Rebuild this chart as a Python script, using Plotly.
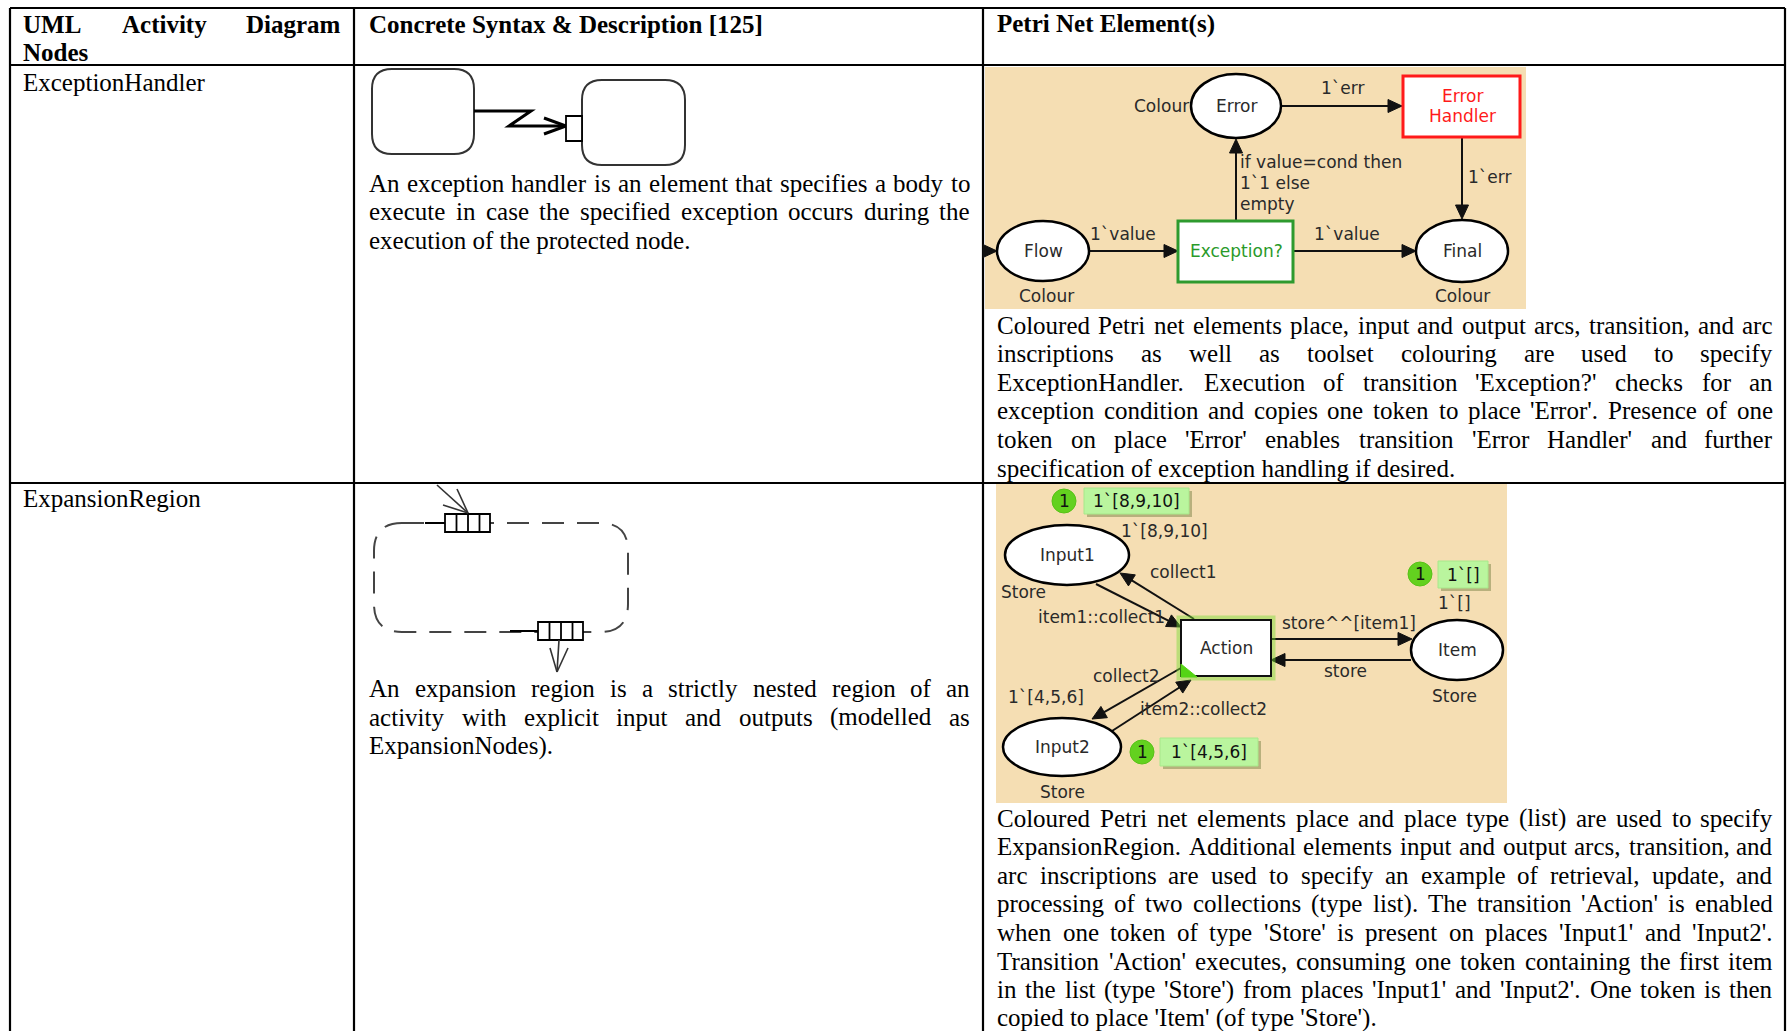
import math
import plotly.graph_objects as go

# ---------------- table content ----------------
header_col1 = ["UML Activity Diagram", "Nodes"]
header_col2 = "Concrete Syntax & Description [125]"
header_col3 = "Petri Net Element(s)"
node_names = ["ExceptionHandler", "ExpansionRegion"]

syntax_row1 = [
    "An exception handler is an element that specifies a body to",
    "execute in case the specified exception occurs during the",
    "execution of the protected node.",
]
syntax_row2 = [
    "An expansion region is a strictly nested region of an",
    "activity with explicit input and outputs (modelled as",
    "ExpansionNodes).",
]
petri_row1 = [
    "Coloured Petri net elements place, input and output arcs, transition, and arc",
    "inscriptions as well as toolset colouring are used to specify",
    "ExceptionHandler. Execution of transition 'Exception?' checks for an",
    "exception condition and copies one token to place 'Error'. Presence of one",
    "token on place 'Error' enables transition 'Error Handler' and further",
    "specification of exception handling if desired.",
]
petri_row2 = [
    "Coloured Petri net elements place and place type (list) are used to specify",
    "ExpansionRegion. Additional elements input and output arcs, transition, and",
    "arc inscriptions are used to specify an example of retrieval, update, and",
    "processing of two collections (type list). The transition 'Action' is enabled",
    "when one token of type 'Store' is present on places 'Input1' and 'Input2'.",
    "Transition 'Action' executes, consuming one token containing the first item",
    "in the list (type 'Store') from places 'Input1' and 'Input2'. One token is then",
    "copied to place 'Item' (of type 'Store').",
]

# Petri net 1 (ExceptionHandler)
pn1_places = ["Flow", "Error", "Final"]
pn1_place_type = "Colour"
pn1_transitions = ["Exception?", "Error", "Handler"]
pn1_arc_labels = ["1`value", "1`value", "1`err", "1`err"]
pn1_guard_lines = ["if value=cond then", "1`1 else", "empty"]

# Petri net 2 (ExpansionRegion)
pn2_places = ["Input1", "Input2", "Item"]
pn2_place_type = "Store"
pn2_transition = "Action"
pn2_arc_labels = ["item1::collect1", "collect1", "collect2", "item2::collect2", "store^^[item1]", "store"]
pn2_init_marking = ["1`[8,9,10]", "1`[4,5,6]", "1`[]"]
pn2_token_counts = ["1", "1", "1"]

# ---------------- font metrics (Times, 1/1000 em) ----------------
_reg = {' ': 250, '!': 333, '"': 408, '#': 500, '$': 500, '%': 833, '&': 778, "'": 180, '(': 333, ')': 333,
        '*': 500, '+': 564, ',': 250, '-': 333, '.': 250, '/': 278, ':': 278, ';': 278, '<': 564, '=': 564,
        '>': 564, '?': 444, '@': 921, 'A': 722, 'B': 667, 'C': 667, 'D': 722, 'E': 611, 'F': 556, 'G': 722,
        'H': 722, 'I': 333, 'J': 389, 'K': 722, 'L': 611, 'M': 889, 'N': 722, 'O': 722, 'P': 556, 'Q': 722,
        'R': 667, 'S': 556, 'T': 611, 'U': 722, 'V': 722, 'W': 944, 'X': 722, 'Y': 722, 'Z': 611, '[': 333,
        ']': 333, '^': 469, '_': 500, '`': 333, 'a': 444, 'b': 500, 'c': 444, 'd': 500, 'e': 444, 'f': 333,
        'g': 500, 'h': 500, 'i': 278, 'j': 278, 'k': 500, 'l': 278, 'm': 778, 'n': 500, 'o': 500, 'p': 500,
        'q': 500, 'r': 333, 's': 389, 't': 278, 'u': 500, 'v': 500, 'w': 722, 'x': 500, 'y': 500, 'z': 444}
_bold = {' ': 250, '&': 833, "'": 278, '(': 333, ')': 333, ',': 250, '.': 250, ':': 333, '?': 500, '[': 333,
         ']': 333, 'A': 722, 'B': 667, 'C': 722, 'D': 722, 'E': 667, 'F': 611, 'G': 778, 'H': 778, 'I': 389,
         'J': 500, 'K': 778, 'L': 667, 'M': 944, 'N': 722, 'O': 778, 'P': 611, 'Q': 778, 'R': 722, 'S': 556,
         'T': 667, 'U': 722, 'V': 722, 'W': 1000, 'X': 722, 'Y': 722, 'Z': 667, 'a': 500, 'b': 556, 'c': 444,
         'd': 556, 'e': 444, 'f': 333, 'g': 500, 'h': 556, 'i': 278, 'j': 333, 'k': 556, 'l': 278, 'm': 833,
         'n': 556, 'o': 500, 'p': 556, 'q': 556, 'r': 444, 's': 389, 't': 333, 'u': 556, 'v': 500, 'w': 722,
         'x': 500, 'y': 500, 'z': 444}
for d in range(10):
    _reg[str(d)] = 500
    _bold[str(d)] = 500


def tw(s, size, bold=False):
    t = _bold if bold else _reg
    return sum(t.get(c, 500) for c in s) * size / 1000.0


SERIF = "Liberation Serif, Times New Roman, serif"
SANS = "DejaVu Sans, Verdana, sans-serif"
FS = 25

W, H = 1787, 1031
fig = go.Figure()
shapes = []
annots = []


def esc(s):
    return s.replace("&", "&amp;").replace("<", "&lt;").replace(">", "&gt;")


def text(x, y, s, size=FS, family=SERIF, color="black", xa="left", bold=False):
    t = esc(s)
    if bold:
        t = "<b>" + t + "</b>"
    annots.append(dict(x=x, y=y, xref="x", yref="y", text=t, showarrow=False, xanchor=xa, yanchor="middle",
                       font=dict(family=family, size=size, color=color), borderpad=0, borderwidth=0))


def justified(lines, x0, x1, y0, step, bold=False, last_justify=False):
    for i, line in enumerate(lines):
        y = y0 + i * step
        words = line.split(" ")
        is_last = (i == len(lines) - 1) and not last_justify
        if is_last or len(words) == 1:
            text(x0, y, line, bold=bold)
            continue
        widths = [tw(w, FS, bold) for w in words]
        gap = (x1 - x0 - sum(widths)) / (len(words) - 1)
        gap = max(gap, 0.2 * FS)
        x = x0
        for j, w in enumerate(words):
            if j == len(words) - 1:
                text(x1, y, w, bold=bold, xa="right")
            else:
                text(x, y, w, bold=bold)
            x += widths[j] + gap


def line(x0, y0, x1, y1, color="black", width=2, dash=None):
    d = dict(type="line", x0=x0, y0=y0, x1=x1, y1=y1, xref="x", yref="y",
             line=dict(color=color, width=width))
    if dash:
        d["line"]["dash"] = dash
    shapes.append(d)


def rect(x0, y0, x1, y1, fill="white", color="black", width=2):
    shapes.append(dict(type="rect", x0=x0, y0=y0, x1=x1, y1=y1, xref="x", yref="y",
                       fillcolor=fill, line=dict(color=color, width=width)))


def ellipse(cx, cy, rx, ry, fill="white", color="black", width=2.5):
    shapes.append(dict(type="circle", x0=cx - rx, x1=cx + rx, y0=cy - ry, y1=cy + ry, xref="x", yref="y",
                       fillcolor=fill, line=dict(color=color, width=width)))


def path(p, fill=None, color="black", width=2, dash=None):
    d = dict(type="path", path=p, xref="x", yref="y", line=dict(color=color, width=width))
    if fill:
        d["fillcolor"] = fill
    if dash:
        d["line"]["dash"] = dash
    shapes.append(d)


def rrect(x0, y0, x1, y1, r):
    return (f"M {x0+r},{y0} L {x1-r},{y0} Q {x1},{y0} {x1},{y0+r} L {x1},{y1-r} Q {x1},{y1} {x1-r},{y1} "
            f"L {x0+r},{y1} Q {x0},{y1} {x0},{y1-r} L {x0},{y0+r} Q {x0},{y0} {x0+r},{y0} Z")


def arrow(x0, y0, x1, y1, L=14, w=6.5, color="#111", width=2):
    dx, dy = x1 - x0, y1 - y0
    d = math.hypot(dx, dy)
    ux, uy = dx / d, dy / d
    bx, by = x1 - ux * L, y1 - uy * L
    line(x0, y0, bx + ux * 2, by + uy * 2, color=color, width=width)
    px, py = -uy, ux
    path(f"M {x1},{y1} L {bx+px*w},{by+py*w} L {bx-px*w},{by-py*w} Z", fill=color, color=color, width=1)


# ---------------- table grid ----------------
XL, XC1, XC2, XR = 10, 354, 983, 1785
YT, YH, YR = 8, 65, 483
for y in (YT, YH, YR):
    line(XL, y, XR, y, width=2.2)
for x in (XL, XC1, XC2, XR):
    line(x, YT, x, H + 2, width=2.2)

# headers
justified([header_col1[0]], 23, 341, 24, 0, bold=True, last_justify=True)
text(23, 52, header_col1[1], bold=True)
text(369, 24, header_col2, bold=True)
text(997, 24, header_col3, bold=True)

# column 1
text(23, 82, node_names[0])
text(23, 498, node_names[1])

# column 2 descriptions
justified(syntax_row1, 369, 970, 183, 28.6)
justified(syntax_row2, 369, 970, 688, 29)

# column 3 descriptions
justified(petri_row1, 997, 1773, 325, 28.6)
justified(petri_row2, 997, 1773, 818, 28.6)

# ---------------- UML diagram: ExceptionHandler ----------------
path(rrect(372, 69, 474, 154, 20), color="#333", width=2)
path(rrect(582, 80, 685, 165, 20), color="#333", width=2)
path("M 474,111 L 531,111 L 509,126 L 566,126", color="black", width=3)
path("M 544,118 L 566,126 L 544,134", color="black", width=3)
rect(566, 116, 582, 141, fill="white", color="black", width=1.8)

# ---------------- UML diagram: ExpansionRegion ----------------
path(rrect(374, 523, 628, 632, 28), color="#444", width=2, dash="22px,13px")
line(425, 523, 446, 523, color="black", width=2)
rect(445, 514, 490, 532, fill="white", color="black", width=1.8)
for xd in (456.5, 468, 479.5):
    line(xd, 514, xd, 532, color="black", width=1.8)
line(437, 485, 468, 513, color="#333", width=1.6)
line(457, 489, 468, 513, color="#333", width=1.6)
line(443, 505, 468, 513, color="#333", width=1.6)
line(510, 631, 539, 631, color="black", width=2)
rect(538, 622, 583, 640, fill="white", color="black", width=1.8)
for xd in (549.5, 561, 572.5):
    line(xd, 622, xd, 640, color="black", width=1.8)
line(559, 640, 557, 672, color="#333", width=1.6)
line(550, 648, 557, 672, color="#333", width=1.6)
line(568, 648, 557, 672, color="#333", width=1.6)

# ---------------- Petri net 1 ----------------
TAN = "#F5DEB3"
rect(985, 67, 1526, 309, fill=TAN, color=TAN, width=0)
INK = "#2a2a2a"
# arcs
arrow(983, 251, 997, 251)
arrow(1089, 251, 1178, 251)
arrow(1293, 251, 1416, 251)
arrow(1236, 221, 1236, 139)
arrow(1281, 106, 1402, 106)
arrow(1462, 137, 1462, 219)
# places
ellipse(1043, 251, 46, 30)
ellipse(1236, 106, 45, 32)
ellipse(1462, 251, 46, 31)
# transitions
rect(1178, 221, 1293, 282, fill="white", color="#2E9A2E", width=3)
rect(1403, 76, 1520, 137, fill="white", color="#FF1A1A", width=3)
PFS = 17
text(1043, 251, pn1_places[0], PFS, SANS, INK, "center")
text(1236, 106, pn1_places[1], PFS, SANS, INK, "center")
text(1462, 251, pn1_places[2], PFS, SANS, INK, "center")
text(1189, 106, pn1_place_type, PFS, SANS, INK, "right")
text(1046, 296, pn1_place_type, PFS, SANS, INK, "center")
text(1462, 296, pn1_place_type, PFS, SANS, INK, "center")
text(1236, 251, pn1_transitions[0], PFS, SANS, "#2A9A2A", "center")
text(1462, 96, pn1_transitions[1], PFS, SANS, "#FF1A1A", "center")
text(1462, 116, pn1_transitions[2], PFS, SANS, "#FF1A1A", "center")
text(1123, 234, pn1_arc_labels[0], PFS, SANS, INK, "center")
text(1347, 234, pn1_arc_labels[1], PFS, SANS, INK, "center")
text(1342, 88, pn1_arc_labels[2], PFS, SANS, INK, "center")
text(1468, 177, pn1_arc_labels[3], PFS, SANS, INK, "left")
for k, g in enumerate(pn1_guard_lines):
    text(1240, 162 + k * 21, g, PFS, SANS, INK, "left")

# ---------------- Petri net 2 ----------------
rect(996, 484, 1507, 803, fill=TAN, color=TAN, width=0)
# arcs
arrow(1096, 584, 1181, 627)
arrow(1194, 619, 1120, 573)
arrow(1181, 668, 1092, 719)
arrow(1112, 731, 1191, 680)
arrow(1271, 639, 1412, 639)
arrow(1411, 660, 1271, 660)
# places
ellipse(1067, 555, 62, 30)
ellipse(1062, 747, 59, 29)
ellipse(1457, 650, 46, 30)
# transition with enabled glow
rect(1179, 618, 1273, 678, fill="rgba(0,0,0,0)", color="rgba(120,220,50,0.45)", width=5)
rect(1181, 620, 1271, 676, fill="white", color="#111", width=2)
path("M 1181,664 L 1181,677 L 1197,677 Z", fill="#55D414", color="#55D414", width=1)
text(1226, 648, pn2_transition, PFS, SANS, INK, "center")
text(1067, 555, pn2_places[0], PFS, SANS, INK, "center")
text(1062, 747, pn2_places[1], PFS, SANS, INK, "center")
text(1457, 650, pn2_places[2], PFS, SANS, INK, "center")
text(1023, 592, pn2_place_type, PFS, SANS, INK, "center")
text(1062, 792, pn2_place_type, PFS, SANS, INK, "center")
text(1454, 696, pn2_place_type, PFS, SANS, INK, "center")
# arc inscriptions
text(1101, 617, pn2_arc_labels[0], PFS, SANS, INK, "center")
text(1183, 572, pn2_arc_labels[1], PFS, SANS, INK, "center")
text(1126, 676, pn2_arc_labels[2], PFS, SANS, INK, "center")
text(1203, 709, pn2_arc_labels[3], PFS, SANS, INK, "center")
text(1349, 623, pn2_arc_labels[4], PFS, SANS, INK, "center")
text(1345, 671, pn2_arc_labels[5], PFS, SANS, INK, "center")
# initial markings
text(1164, 531, pn2_init_marking[0], PFS, SANS, INK, "center")
text(1046, 697, pn2_init_marking[1], PFS, SANS, INK, "center")
text(1454, 603, pn2_init_marking[2], PFS, SANS, INK, "center")
# current markings (token bubbles)
tokens = [((1064, 501), (1084, 488, 1189, 514)),
          ((1142, 752), (1160, 738, 1258, 766)),
          ((1420, 574), (1438, 561, 1488, 588))]
for k, ((cx, cy), (bx0, by0, bx1, by1)) in enumerate(tokens):
    rect(bx0 + 3, by0 + 3, bx1 + 3, by1 + 3, fill="rgba(110,120,60,0.45)", color="rgba(0,0,0,0)", width=0)
    rect(bx0, by0, bx1, by1, fill="#BAF59E", color="#A8E88A", width=1)
    ellipse(cx, cy, 12, 12, fill="#63D11F", color="#58C218", width=1)
    text(cx, cy, pn2_token_counts[k], PFS, SANS, "#111", "center")
    text((bx0 + bx1) / 2, (by0 + by1) / 2, pn2_init_marking[k], PFS, SANS, "#111", "center")

fig.update_layout(
    width=W, height=H, autosize=False,
    margin=dict(l=0, r=0, t=0, b=0, pad=0),
    paper_bgcolor="white", plot_bgcolor="white",
    xaxis=dict(range=[0, W], visible=False, fixedrange=True),
    yaxis=dict(range=[H, 0], visible=False, fixedrange=True),
    shapes=shapes, annotations=annots, showlegend=False,
)
fig.write_html("out.html", config={"displayModeBar": False},
               post_script="document.body.style.margin='0';document.body.style.overflow='hidden';")
